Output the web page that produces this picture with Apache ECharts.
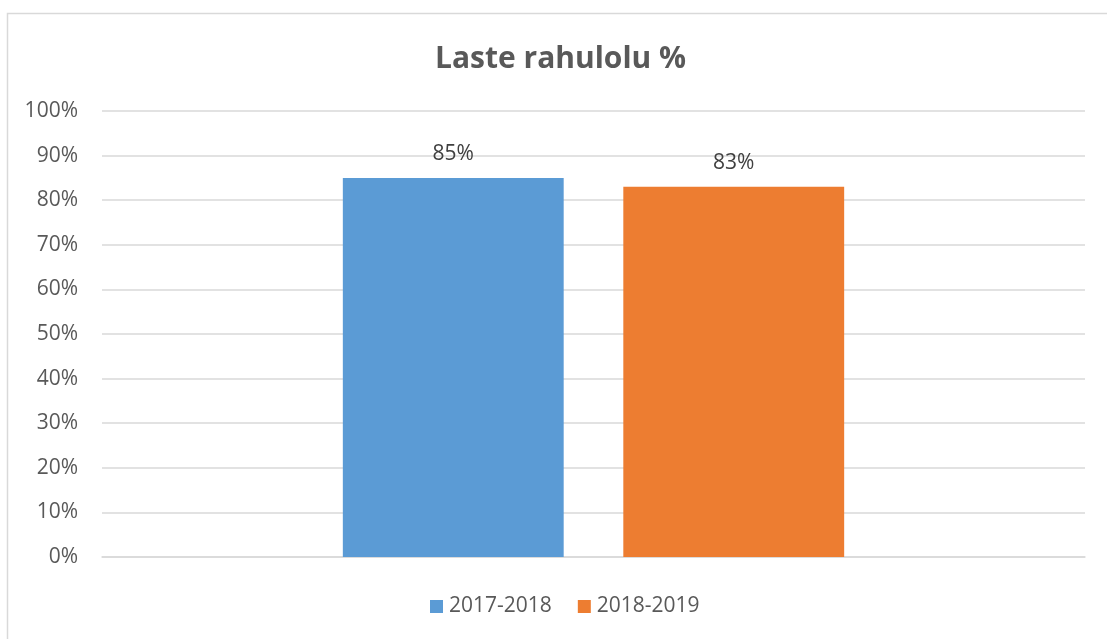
<!DOCTYPE html>
<html>
<head>
<meta charset="utf-8">
<script src="https://cdn.jsdelivr.net/npm/echarts@6/dist/echarts.min.js"></script>
<style>
  html, body { margin: 0; padding: 0; background: #fff; }
  #chart { width: 1107px; height: 639px; }
</style>
</head>
<body>
<div id="chart"></div>
<script>
// andmed
const categories = [''];
const seriesNames = ['2017-2018', '2018-2019'];
const seriesValues = [[85], [83]];
const seriesColors = ['#5B9BD5', '#ED7D31'];
const yTicks = [0, 10, 20, 30, 40, 50, 60, 70, 80, 90, 100];

const font = '"Open Sans", sans-serif';
const chart = echarts.init(document.getElementById('chart'));

chart.setOption({
  animation: false,
  graphic: [{
    type: 'rect',
    shape: { x: 7.5, y: 13.5, width: 1120, height: 650 },
    style: { fill: 'none', stroke: '#d9d9d9', lineWidth: 1.5 },
    silent: true
  }],
  title: {
    text: 'Laste rahulolu %',
    left: 430,
    top: 39,
    textStyle: { color: '#595959', fontSize: 30, fontWeight: 'bold', fontFamily: font }
  },
  legend: {
    bottom: 17,
    left: 425,
    itemWidth: 13,
    itemHeight: 13,
    itemGap: 26,
    icon: 'rect',
    textStyle: { color: '#595959', fontSize: 21, fontFamily: font, padding: [0, 0, 0, 1] },
    data: seriesNames
  },
  grid: { left: 102, right: 22, top: 111, bottom: 82, containLabel: false },
  xAxis: {
    type: 'category',
    data: categories,
    axisLine: { lineStyle: { color: '#d9d9d9', width: 1.5 } },
    axisTick: { show: false },
    axisLabel: { show: false }
  },
  yAxis: {
    type: 'value',
    min: yTicks[0],
    max: yTicks[yTicks.length - 1],
    interval: 10,
    axisLine: { show: false },
    axisTick: { show: false },
    splitLine: { lineStyle: { color: '#d9d9d9', width: 1.5 } },
    axisLabel: {
      margin: 24,
      color: '#595959',
      fontSize: 21,
      fontFamily: font,
      formatter: v => v + '%'
    }
  },
  series: seriesNames.map((name, i) => ({
    name: name,
    type: 'bar',
    data: seriesValues[i],
    barGap: '27%',
    barCategoryGap: '49%',
    itemStyle: { color: seriesColors[i] },
    label: {
      show: true,
      position: 'top',
      distance: 13,
      color: '#404040',
      fontSize: 21,
      fontFamily: font,
      formatter: p => p.value + '%'
    }
  }))
});

window.addEventListener('resize', () => chart.resize());
</script>
</body>
</html>
